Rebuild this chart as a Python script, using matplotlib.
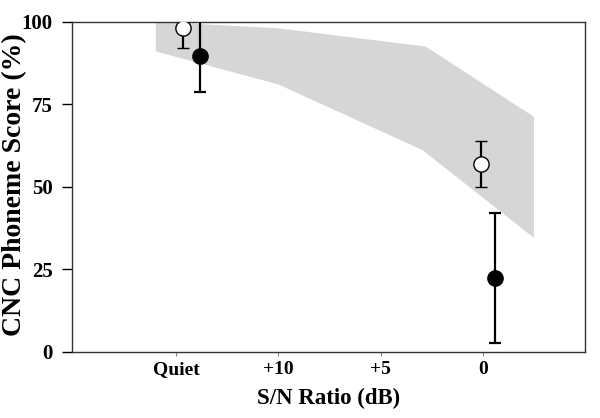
import matplotlib
matplotlib.use('Agg')
import matplotlib.pyplot as plt

# x positions: Quiet=0, +10=1, +5=2, 0=3
tick_labels = ['Quiet', '+10', '+5', '0']

# normal-hearing range (shaded band)
band_x_upper = [-0.2, 1.0, 2.44, 3.5]
band_upper = [100, 98, 92.5, 71.2]
band_x_lower = [-0.2, 1.0, 2.41, 3.5]
band_lower = [91, 81, 61.1, 34.5]

# open circles
open_x = [0.07, 2.98]
open_y = [98, 57]
open_lo = [92, 49.8]
open_hi = [103, 64]

# filled circles
fill_x = [0.23, 3.12]
fill_y = [89.7, 22.2]
fill_lo = [78.8, 2.5]
fill_hi = [103, 42.1]

plt.rcParams['font.family'] = ['Liberation Serif', 'DejaVu Serif']
plt.rcParams['font.weight'] = 'bold'

fig = plt.figure(figsize=(6, 4.18), dpi=100)
ax = fig.add_axes([0.12, 0.1586, 0.855, 0.7894])

poly_x = band_x_upper + band_x_lower[::-1]
poly_y = band_upper + band_lower[::-1]
ax.fill(poly_x, poly_y, color='#d6d6d6', lw=0, zorder=1)

ax.errorbar(open_x, open_y,
            yerr=[[y - l for y, l in zip(open_y, open_lo)], [h - y for y, h in zip(open_y, open_hi)]],
            fmt='o', ms=11, mfc='white', mec='black', mew=1.0, ecolor='black',
            elinewidth=1.6, capsize=4, capthick=1.6, zorder=3)
ax.errorbar(fill_x, fill_y,
            yerr=[[y - l for y, l in zip(fill_y, fill_lo)], [h - y for y, h in zip(fill_y, fill_hi)]],
            fmt='o', ms=11, mfc='black', mec='black', ecolor='black',
            elinewidth=1.6, capsize=4, capthick=1.6, zorder=3)

ax.set_xlim(-1.02, 4.0)
ax.set_ylim(0, 100)
ax.set_xticks(range(len(tick_labels)))
ax.set_xticklabels(tick_labels, fontsize=14, fontweight='bold')
ax.set_yticks([0, 25, 50, 75, 100])
ax.set_yticklabels(['0', '25', '50', '75', '100'], fontsize=15, fontweight='bold')
ax.tick_params(axis='x', direction='out', length=3, width=0.8, color='#888888', pad=4)
ax.tick_params(axis='y', direction='out', length=7, width=1.0, pad=7)

for s in ax.spines.values():
    s.set_linewidth(1.0)
    s.set_color('#333333')

ax.set_xlabel('S/N Ratio (dB)', fontsize=16.5, fontweight='bold', labelpad=7)
ax.set_ylabel('CNC Phoneme Score (%)', fontsize=20, fontweight='bold')
ax.yaxis.set_label_coords(-0.088, 0.505)

fig.savefig('out.png', dpi=100)
